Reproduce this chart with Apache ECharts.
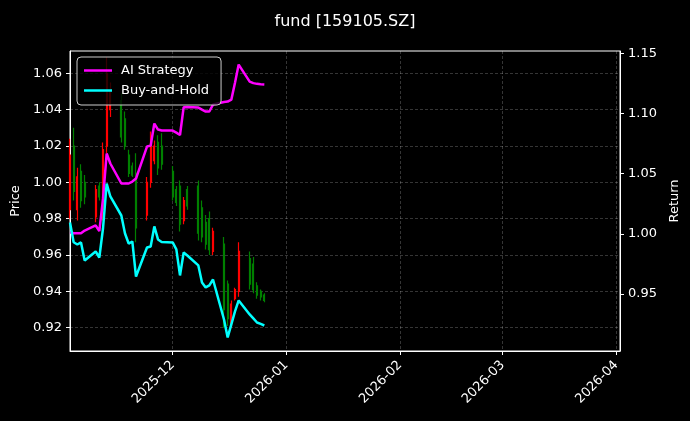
<!DOCTYPE html>
<html><head><meta charset="utf-8">
<script src="https://cdn.jsdelivr.net/npm/echarts@6/dist/echarts.min.js"></script>
<style>html,body{margin:0;padding:0;background:#000;}#c{width:690px;height:421px;}</style>
</head><body><div id="c"></div>
<script>
const dates = ['2025-11-03','2025-11-04','2025-11-05','2025-11-06','2025-11-07',
  '2025-11-10','2025-11-11','2025-11-12','2025-11-13','2025-11-14',
  '2025-11-17','2025-11-18','2025-11-19','2025-11-20','2025-11-21',
  '2025-11-24','2025-11-25','2025-11-26','2025-11-27','2025-11-28',
  '2025-12-01','2025-12-02','2025-12-03','2025-12-04','2025-12-05',
  '2025-12-08','2025-12-09','2025-12-10','2025-12-11','2025-12-12',
  '2025-12-15','2025-12-16','2025-12-17','2025-12-18','2025-12-19',
  '2025-12-22','2025-12-23','2025-12-24','2025-12-25','2025-12-26'];
const open  = [0.985,1.020,0.985,1.006,1.000, 0.981,0.998,0.985,1.020,1.040, 1.045,1.035,1.015,1.009,1.005, 0.982,1.000,1.012,1.022,1.020,
  1.006,0.996,0.998,0.979,0.996, 0.998,0.986,0.978,0.980,0.962, 0.966,0.944,0.922,0.936,0.940, 0.958,0.955,0.943,0.940,0.938];
const close = [1.015,0.995,1.003,0.990,0.992, 0.996,0.992,1.018,1.060,1.050, 1.025,1.020,1.005,1.004,0.975, 1.000,1.024,1.020,1.008,1.010,
  0.992,0.989,0.977,0.990,0.987, 0.972,0.970,0.966,0.963,0.973, 0.930,0.925,0.933,0.941,0.962, 0.944,0.941,0.938,0.937,0.935];
const low   = [0.980,0.990,0.979,0.986,0.988, 0.978,0.990,0.979,1.016,1.036, 1.022,1.018,1.003,1.003,0.967, 0.979,0.997,1.010,1.004,1.007,
  0.990,0.987,0.973,0.977,0.985, 0.968,0.967,0.963,0.960,0.960, 0.920,0.921,0.920,0.935,0.937, 0.941,0.939,0.936,0.935,0.934];
const high  = [1.024,1.030,1.008,1.010,1.004, 0.9985,1.000,1.022,1.069,1.055, 1.049,1.039,1.018,1.011,1.016, 1.003,1.028,1.023,1.026,1.027,
  1.009,0.998,1.001,0.992,0.998, 1.001,0.990,0.982,0.984,0.975, 0.970,0.946,0.935,0.942,0.967, 0.962,0.959,0.945,0.941,0.939];
const aiStrategy = [1.0013,1.0005,1.0005,1.0005,1.0027, 1.0069,1.0023,1.0290,1.0667,1.0584, 1.0418,1.0418,1.0418,1.0434,1.0459,
  1.0725,1.0733,1.0916,1.0866,1.0858, 1.0858,1.0841,1.0821,1.1052,1.1053, 1.1049,1.1032,1.1016,1.1016,1.1074,
  1.1095,1.1099,1.1115,1.1256,1.1406, 1.1265,1.1252,1.1246,1.1242,1.1240];
const buyHold = [1.0094,0.9930,0.9911,0.9928,0.9778, 0.9853,0.9803,1.0044,1.0418,1.0310, 1.0152,1.0002,0.9919,0.9936,0.9645,
  0.9886,0.9895,1.0061,0.9953,0.9932, 0.9928,0.9870,0.9654,0.9845,0.9820, 0.9737,0.9595,0.9554,0.9571,0.9620,
  0.9288,0.9139,0.9247,0.9355,0.9446, 0.9330,0.9297,0.9263,0.9251,0.9238];
const monthTicks = ['2025-12-01','2026-01-01','2026-02-01','2026-03-01','2026-04-01'];
const xRange = ['2025-11-03','2026-04-02'];
const priceTicks = [0.92,0.94,0.96,0.98,1.00,1.02,1.04,1.06];
const returnTicks = [0.95,1.00,1.05,1.10,1.15];

function ts(s){const p=s.split('-').map(Number);return new Date(p[0],p[1]-1,p[2]).getTime();}
const FONT = 'DejaVu Sans';
const chart = echarts.init(document.getElementById('c'), null, {renderer:'canvas'});
const gridLine = {show:true, lineStyle:{color:'rgba(255,255,255,0.3)', width:0.7, type:[3,2]}};
const monthVals = monthTicks.map(ts);
const xs = dates.map(ts);
chart.setOption({
  backgroundColor:'#000',
  animation:false,
  title:{text:'fund [159105.SZ]', left:'center', top:9,
    textStyle:{color:'#fff', fontSize:16, fontWeight:'normal', fontFamily:FONT}},
  legend:{left:77, top:57, orient:'vertical', backgroundColor:'rgba(0,0,0,0.8)',
    borderColor:'#cccccc', borderWidth:1, borderRadius:4, padding:[7,12,8,7],
    itemWidth:28, itemHeight:2.5, itemGap:7, icon:'rect',
    textStyle:{color:'#fff', fontSize:13, fontFamily:FONT, padding:[0,0,0,4]},
    data:['AI Strategy','Buy-and-Hold']},
  grid:{left:70, right:70, top:51, bottom:70, show:true, borderColor:'#fff', borderWidth:1},
  xAxis:{type:'value', min:ts(xRange[0]), max:ts(xRange[1]), scale:true,
    axisLine:{show:true, lineStyle:{color:'#fff', width:1}},
    axisTick:{show:true, length:4, lineStyle:{color:'#fff'}, customValues:monthVals},
    axisLabel:{color:'#fff', fontSize:13, fontFamily:FONT, rotate:45, margin:12, customValues:monthVals,
      formatter:function(v){const d=new Date(v);return d.getFullYear()+'-'+String(d.getMonth()+1).padStart(2,'0');}},
    splitLine:gridLine},
  yAxis:[
    {type:'value', position:'left', min:0.9072, max:1.0723, name:'Price', nameLocation:'middle', nameGap:46, nameRotate:90,
      nameTextStyle:{color:'#fff', fontSize:13, fontFamily:FONT},
      axisLine:{show:true, lineStyle:{color:'#fff'}},
      axisTick:{show:true, length:4, lineStyle:{color:'#fff'}, customValues:priceTicks},
      axisLabel:{color:'#fff', fontSize:13, fontFamily:FONT, margin:8, customValues:priceTicks,
        formatter:function(v){return v.toFixed(2);}},
      splitLine:gridLine},
    {type:'value', position:'right', min:0.9026, max:1.1519, name:'Return', nameLocation:'middle', nameGap:47, nameRotate:90,
      nameTextStyle:{color:'#fff', fontSize:13, fontFamily:FONT},
      axisLine:{show:true, lineStyle:{color:'#fff'}},
      axisTick:{show:true, length:4, lineStyle:{color:'#fff'}, customValues:returnTicks},
      axisLabel:{color:'#fff', fontSize:13, fontFamily:FONT, margin:8, customValues:returnTicks,
        formatter:function(v){return v.toFixed(2);}},
      splitLine:{show:false}}
  ],
  series:[
    {type:'candlestick', name:'OHLC', xAxisIndex:0, yAxisIndex:0,
      dimensions:['date','open','close','lowest','highest'],
      encode:{x:'date', y:['open','close','lowest','highest']},
      data:xs.map((x,i)=>[x, open[i], close[i], low[i], high[i]]),
      barWidth:1.5,
      itemStyle:{color:'#ff0000', color0:'#008000', borderColor:'#ff0000', borderColor0:'#008000', borderWidth:1.2}},
    {type:'line', name:'AI Strategy', yAxisIndex:1, showSymbol:false, symbol:'none',
      data:xs.map((x,i)=>[x, aiStrategy[i]]),
      lineStyle:{color:'#ff00ff', width:2.5}, itemStyle:{color:'#ff00ff'}},
    {type:'line', name:'Buy-and-Hold', yAxisIndex:1, showSymbol:false, symbol:'none',
      data:xs.map((x,i)=>[x, buyHold[i]]),
      lineStyle:{color:'#00ffff', width:2.5}, itemStyle:{color:'#00ffff'}}
  ]
});
</script></body></html>
